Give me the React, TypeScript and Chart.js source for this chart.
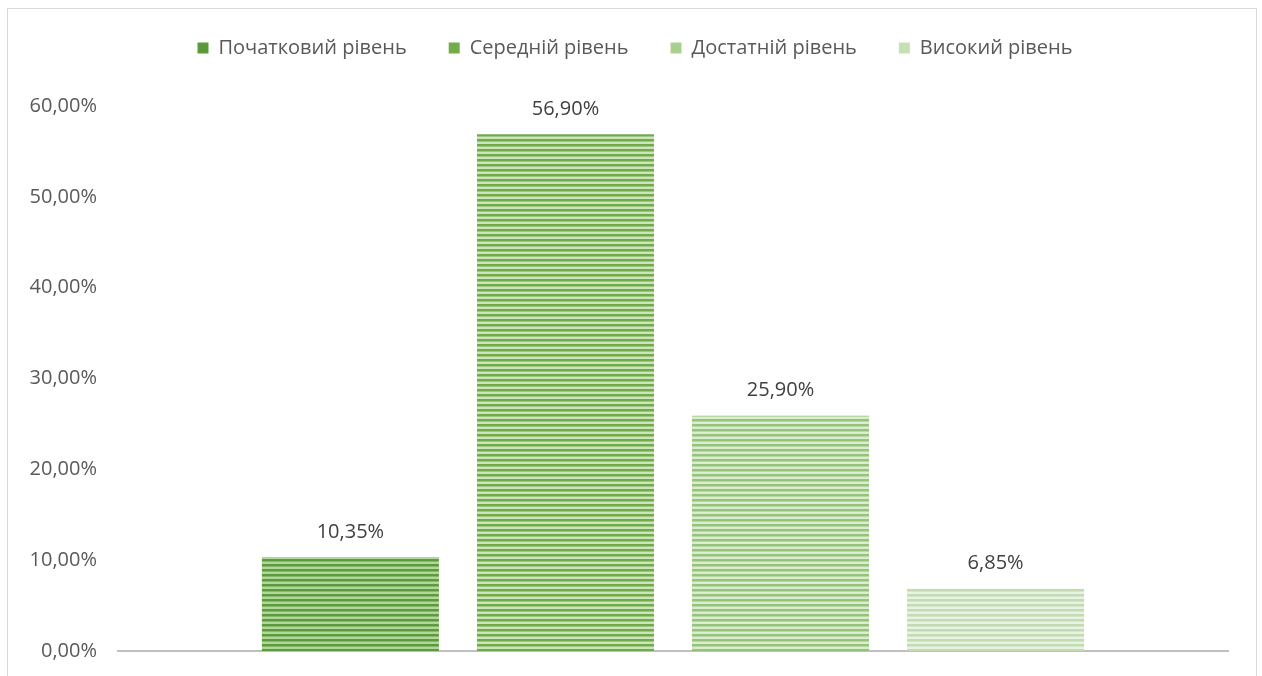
import React, { useEffect, useRef } from "react";
import { Chart, registerables } from "chart.js";

Chart.register(...registerables);

const categories = [""];
const seriesNames = ["Початковий рівень", "Середній рівень", "Достатній рівень", "Високий рівень"];
const seriesValues = [10.35, 56.9, 25.9, 6.85];
const yTicks = [0, 10, 20, 30, 40, 50, 60];

const darkColors = ["#5b9a3d", "#6fab48", "#95c37a", "#c2dbb2"];
const lightColors = ["#b2d79a", "#cde5bd", "#dbecd0", "#e9f3e3"];
const legendColors = ["#5a9a3a", "#70ad47", "#a9d08e", "#c5e0b4"];

const fmt = (v: number) => v.toFixed(2).replace(".", ",") + "%";

function makePattern(dark: string, light: string): CanvasPattern | string {
  const c = document.createElement("canvas");
  c.width = 8;
  c.height = 5;
  const ctx = c.getContext("2d");
  if (!ctx) return dark;
  ctx.fillStyle = light;
  ctx.fillRect(0, 0, 8, 5);
  ctx.fillStyle = dark;
  ctx.fillRect(0, 0, 8, 2);
  ctx.globalAlpha = 0.5;
  ctx.fillRect(0, 2, 8, 1);
  ctx.globalAlpha = 1;
  const p = ctx.createPattern(c, "repeat");
  return p || dark;
}

const valueLabels = {
  id: "valueLabels",
  afterDatasetsDraw(chart: any) {
    const ctx = chart.ctx;
    ctx.save();
    ctx.font = "20px 'Open Sans'";
    ctx.fillStyle = "#404040";
    ctx.textAlign = "center";
    ctx.textBaseline = "middle";
    chart.data.datasets.forEach((ds: any, i: number) => {
      const meta = chart.getDatasetMeta(i);
      meta.data.forEach((el: any, j: number) => {
        ctx.fillText(fmt(ds.data[j]), el.x, el.y - 25);
      });
    });
    ctx.restore();
  },
};

const legendSpacing = {
  id: "legendSpacing",
  beforeInit(chart: any) {
    const origFit = chart.legend.fit;
    chart.legend.fit = function fit() {
      origFit.bind(chart.legend)();
      this.height += 38;
    };
  },
  afterLayout(chart: any) {
    chart.legend.left += 17;
    chart.legend.right += 17;
  },
};

export default function App() {
  const ref = useRef<HTMLCanvasElement>(null);
  useEffect(() => {
    if (!ref.current) return;
    const datasets = seriesNames.map((name, i) => ({
      label: name,
      data: [seriesValues[i]],
      backgroundColor: makePattern(darkColors[i], lightColors[i]),
      borderWidth: 0,
      categoryPercentage: 0.775,
      barPercentage: 0.823,
    }));
    const chart = new Chart(ref.current, {
      type: "bar",
      data: { labels: categories, datasets },
      options: {
        animation: false,
        responsive: false,
        maintainAspectRatio: false,
        layout: { padding: { top: -13, right: 28, bottom: 46, left: 0 } },
        plugins: {
          tooltip: { enabled: false },
          legend: {
            position: "top",
            labels: {
              font: { family: "'Open Sans'", size: 20 },
              color: "#595959",
              boxWidth: 11,
              boxHeight: 11,
              padding: 42,
              generateLabels: (chart: any) =>
                chart.data.datasets.map((ds: any, i: number) => ({
                  text: ds.label,
                  fillStyle: legendColors[i],
                  strokeStyle: legendColors[i],
                  lineWidth: 0,
                  hidden: false,
                  datasetIndex: i,
                  fontColor: "#595959",
                })),
            },
          },
        },
        scales: {
          x: {
            grid: { display: false, drawTicks: false },
            ticks: { display: false },
            border: { display: true, color: "#bfbfbf", width: 2 },
          },
          y: {
            min: 0,
            max: 60,
            afterFit: (scale: any) => {
              scale.width = 110;
            },
            afterBuildTicks: (scale: any) => {
              scale.ticks = yTicks.map((v) => ({ value: v }));
            },
            grid: { display: false, drawTicks: false },
            border: { display: false },
            ticks: {
              padding: 21,
              color: "#595959",
              font: { family: "'Open Sans'", size: 20 },
              callback: (v: any) => fmt(Number(v)),
            },
          },
        },
      },
      plugins: [valueLabels, legendSpacing],
    });
    return () => chart.destroy();
  }, []);
  return (
    <div
      style={{
        position: "absolute",
        left: 7,
        top: 8,
        width: 1250,
        height: 690,
        border: "1px solid #d9d9d9",
        boxSizing: "border-box",
        background: "#fff",
      }}
    >
      <canvas ref={ref} width={1248} height={688} style={{ display: "block" }} />
    </div>
  );
}
